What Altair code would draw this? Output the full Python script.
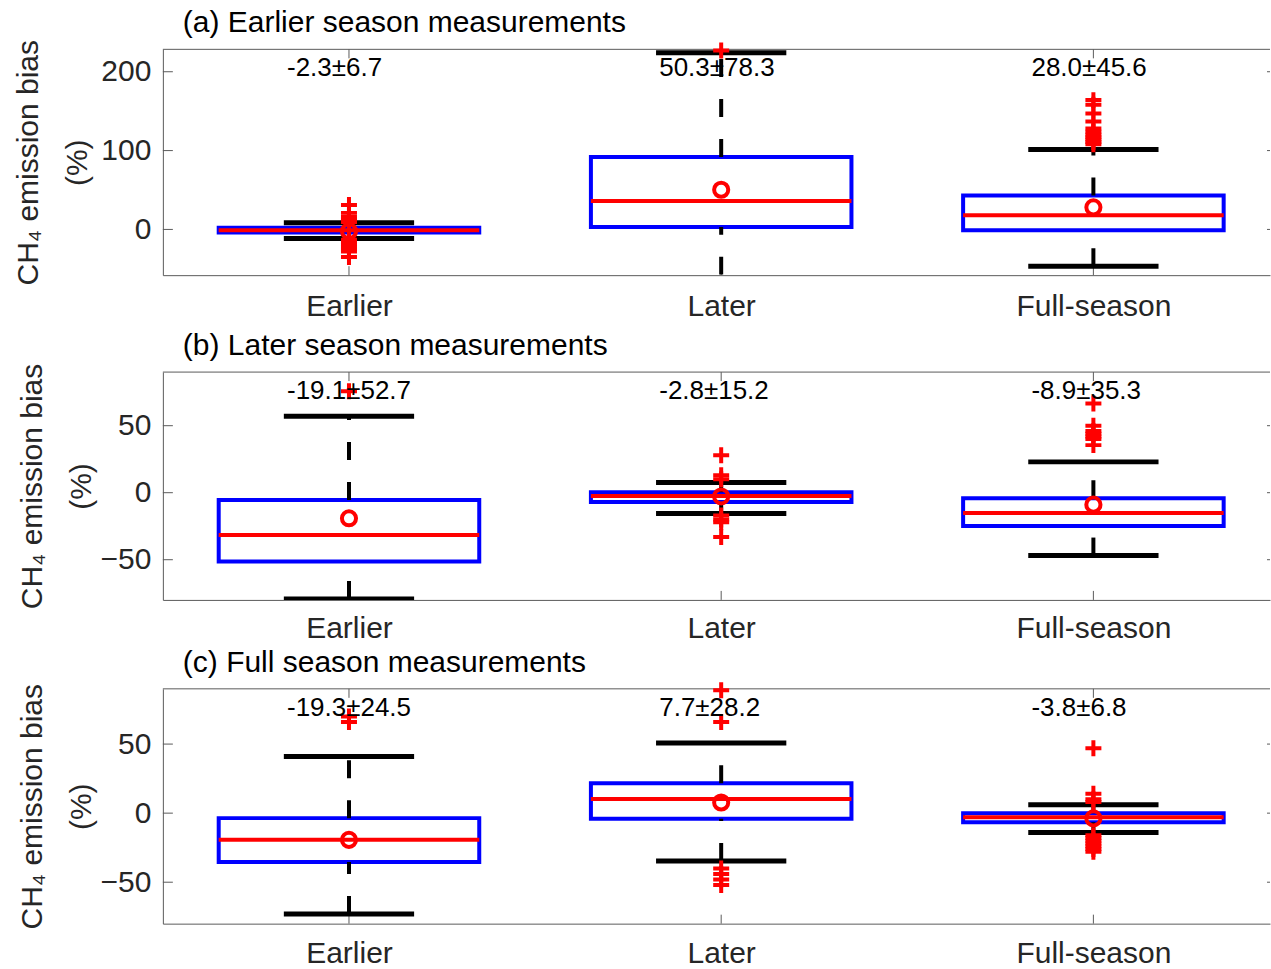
import altair as alt
import pandas as pd

FONT = "Liberation Sans"
BLUE = "#0000ff"
RED = "#ff0000"
FRAME = "#5a5a5a"
INK = "#262626"

CATEGORIES = ["Earlier", "Later", "Full-season"]
CAT_POS = [1, 2, 3]
YLABEL = ["CH\u2084 emission bias", "(%)"]

# (a) Earlier season measurements
A_TITLE = "(a) Earlier season measurements"
A_Q1 = [-4.0, 3.0, -1.0]
A_MED = [-1.0, 36.0, 18.0]
A_Q3 = [2.0, 92.0, 43.0]
A_LO = [-11.4, -108.0, -46.6]
A_HI = [8.4, 224.0, 101.5]
A_MEAN = [-2.3, 50.3, 28.0]
A_SD = [6.7, 78.3, 45.6]
A_OUT = [
    [31, 21, 16, 13, 11, 9.5, -13, -16, -19, -22, -25, -28, -35],
    [227],
    [164, 158, 147, 137, 128, 124, 120, 117, 114, 111, 108],
]
A_YDOMAIN = [-58, 228.4]
A_YTICKS = [0, 100, 200]

# (b) Later season measurements
B_TITLE = "(b) Later season measurements"
B_Q1 = [-51.3, -7.0, -24.8]
B_MED = [-31.5, -2.5, -15.1]
B_Q3 = [-5.4, 0.3, -4.2]
B_LO = [-79.3, -15.6, -46.9]
B_HI = [57.0, 7.7, 23.0]
B_MEAN = [-19.1, -2.8, -8.9]
B_SD = [52.7, 15.2, 35.3]
B_OUT = [
    [75.7],
    [28, 13, 10, -17, -20, -22, -33],
    [66.5, 50, 46, 44, 42, 40, 35.5],
]
B_YDOMAIN = [-80, 90]
B_YTICKS = [-50, 0, 50]

# (c) Full season measurements
C_TITLE = "(c) Full season measurements"
C_Q1 = [-35.4, -4.1, -6.5]
C_MED = [-19.3, 10.3, -2.9]
C_Q3 = [-3.6, 21.7, 0.0]
C_LO = [-73.0, -34.7, -14.0]
C_HI = [41.0, 50.8, 6.0]
C_MEAN = [-19.3, 7.7, -3.8]
C_SD = [24.5, 28.2, 6.8]
C_OUT = [
    [70, 66],
    [89, 66, -40, -44, -48, -52],
    [47, 14, 10, 8, -16, -18, -20, -22, -24, -26, -28],
]
C_YDOMAIN = [-80, 90]
C_YTICKS = [-50, 0, 50]

# layout constants (pixels / category units)
W = 1108
PX_PER_CAT = 372.5
X_DOMAIN = [0.5, 0.5 + W / PX_PER_CAT]
BOX_HALF = 0.35
CAP_HALF = 0.175
PLUS = "M-1,0H1M0,-1V1"
LABEL_EXPR = "[" + ",".join(f"'{c}'" for c in CATEGORIES) + "][datum.value - 1]"


def panel(title, q1, med, q3, lo, hi, mean, sd, outliers,
          y_domain, y_ticks, height, title_x, label_pad):
    stats = pd.DataFrame({"pos": CAT_POS, "q1": q1, "med": med, "q3": q3,
                          "mean": mean})
    stats["label"] = [f"{m:.1f}\u00b1{s:.1f}" for m, s in zip(mean, sd)]
    # whiskers run upward from their lower end, as in MATLAB's boxplot
    whisk = pd.DataFrame({"pos": CAT_POS * 2,
                          "start": list(q3) + list(lo),
                          "end": list(hi) + list(q1)})
    caps = pd.DataFrame({"pos": CAT_POS * 2, "v": list(hi) + list(lo)})
    outl = pd.DataFrame([(p, v) for p, vals in zip(CAT_POS, outliers) for v in vals],
                        columns=["pos", "v"])
    ticks = pd.DataFrame({"t": y_ticks})
    one = pd.DataFrame({"k": [0]})

    xs = alt.Scale(domain=X_DOMAIN, nice=False, zero=False)
    ys = alt.Scale(domain=y_domain, nice=False, zero=False)

    x_axis = alt.Axis(values=CAT_POS, labelExpr=LABEL_EXPR, title=None,
                      ticks=False, tickSize=0, grid=False,
                      domainColor=FRAME, domainWidth=1,
                      labelFont=FONT, labelFontSize=30, labelColor=INK,
                      labelBaseline="alphabetic", labelPadding=label_pad,
                      labelFlush=False, labelOverlap=False)
    # the first title line sits at titleX, the second one lineHeight to its right
    y_axis = alt.Axis(values=y_ticks, title=YLABEL, ticks=False, tickSize=0,
                      grid=False, domainColor=FRAME, domainWidth=1,
                      labelFont=FONT, labelFontSize=30, labelColor=INK,
                      labelPadding=12, labelFlush=False, labelOverlap=False,
                      titleFont=FONT, titleFontSize=30, titleFontWeight="normal",
                      titleColor=INK, titleAngle=270, titleAlign="center",
                      titleBaseline="alphabetic", titleX=title_x,
                      titleY=height / 2, titleLineHeight=49)

    # axes are declared once (on the boxes); other layers share the scales
    def X(field):
        return alt.X(field, scale=xs)

    def Y(field):
        return alt.Y(field, scale=ys)

    heading = alt.Chart(one).mark_text(
        text=title, align="left", baseline="alphabetic", fontSize=30,
        font=FONT, color="black"
    ).encode(x=alt.value(20), y=alt.value(-17))

    frame_top = alt.Chart(one).mark_rule(color=FRAME, strokeWidth=1).encode(
        x=alt.value(0), x2=alt.value(W), y=alt.value(0))
    ytick_l = alt.Chart(ticks).mark_rule(color=FRAME, strokeWidth=1).encode(
        y=Y("t:Q"), x=alt.value(0), x2=alt.value(10))
    ytick_r = alt.Chart(ticks).mark_rule(color=FRAME, strokeWidth=1).encode(
        y=Y("t:Q"), x=alt.value(W - 3), x2=alt.value(W))
    xtick_b = alt.Chart(stats).mark_rule(color=FRAME, strokeWidth=1).encode(
        x=X("pos:Q"), y=alt.value(height), y2=alt.value(height - 9))
    xtick_t = alt.Chart(stats).mark_rule(color=FRAME, strokeWidth=1).encode(
        x=X("pos:Q"), y=alt.value(0), y2=alt.value(9))

    whiskers = alt.Chart(whisk).mark_rule(
        color="black", strokeWidth=4, strokeDash=[18, 22], clip=True
    ).encode(x=X("pos:Q"), y=Y("start:Q"), y2="end:Q")

    cap_marks = alt.Chart(caps).transform_calculate(
        c0=f"datum.pos - {CAP_HALF}", c1=f"datum.pos + {CAP_HALF}"
    ).mark_rule(color="black", strokeWidth=5, clip=True).encode(
        x=X("c0:Q"), x2="c1:Q", y=Y("v:Q"))

    boxes = alt.Chart(stats).transform_calculate(
        x0=f"datum.pos - {BOX_HALF}", x1=f"datum.pos + {BOX_HALF}"
    ).mark_rect(filled=False, stroke=BLUE, strokeWidth=4).encode(
        x=alt.X("x0:Q", scale=xs, axis=x_axis), x2="x1:Q",
        y=alt.Y("q1:Q", scale=ys, axis=y_axis), y2="q3:Q")

    medians = alt.Chart(stats).transform_calculate(
        x0=f"datum.pos - {BOX_HALF}", x1=f"datum.pos + {BOX_HALF}"
    ).mark_rule(color=RED, strokeWidth=4).encode(
        x=X("x0:Q"), x2="x1:Q", y=Y("med:Q"))

    outlier_marks = alt.Chart(outl).mark_point(
        shape=PLUS, size=256, filled=False, stroke=RED, strokeWidth=4, opacity=1
    ).encode(x=X("pos:Q"), y=Y("v:Q"))

    means = alt.Chart(stats).mark_point(
        shape="circle", size=200, filled=False, stroke=RED, strokeWidth=4, opacity=1
    ).encode(x=X("pos:Q"), y=Y("mean:Q"))

    labels = alt.Chart(stats).mark_text(
        align="left", baseline="middle", dx=-62, fontSize=26, font=FONT, color="black"
    ).encode(x=X("pos:Q"), y=alt.value(19), text="label:N")

    return alt.layer(
        boxes, heading, frame_top, ytick_l, ytick_r, xtick_b, xtick_t,
        whiskers, cap_marks, medians, outlier_marks, means, labels
    ).properties(width=W, height=height)


pa = panel(A_TITLE, A_Q1, A_MED, A_Q3, A_LO, A_HI, A_MEAN, A_SD, A_OUT,
           A_YDOMAIN, A_YTICKS, 226, -125, 40)
pb = panel(B_TITLE, B_Q1, B_MED, B_Q3, B_LO, B_HI, B_MEAN, B_SD, B_OUT,
           B_YDOMAIN, B_YTICKS, 228, -121, 38)
pc = panel(C_TITLE, C_Q1, C_MED, C_Q3, C_LO, C_HI, C_MEAN, C_SD, C_OUT,
           C_YDOMAIN, C_YTICKS, 235, -121, 39)

chart = alt.vconcat(
    alt.vconcat(pa, pb, spacing=10), pc, spacing=4
).properties(
    padding={"left": 13, "top": 8, "right": 0, "bottom": 0},
    background="white",
).configure_view(strokeWidth=0)

chart.save("out.html", embed_options={"renderer": "svg", "actions": False})
